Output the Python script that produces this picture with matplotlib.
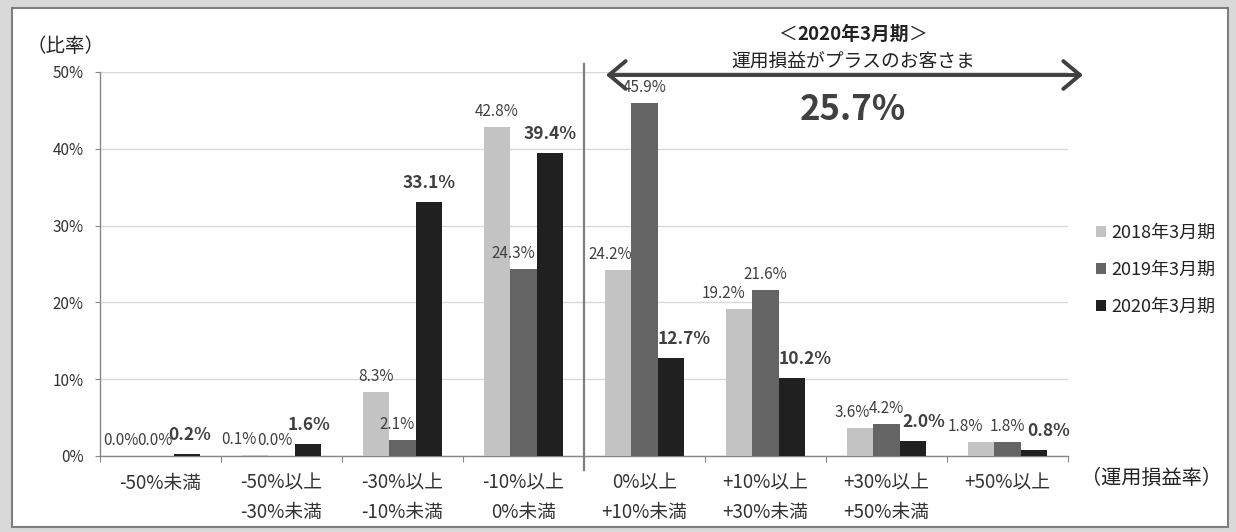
import numpy as np
import matplotlib
matplotlib.use('Agg')
import matplotlib.pyplot as plt
from matplotlib.patches import Rectangle

plt.rcParams['font.family'] = ['Noto Sans CJK JP', 'DejaVu Sans']

# 運用損益率の区分
categories = ['-50%未満', '-50%以上\n-30%未満', '-30%以上\n-10%未満', '-10%以上\n0%未満',
              '0%以上\n+10%未満', '+10%以上\n+30%未満', '+30%以上\n+50%未満', '+50%以上']
series_names = ['2018年3月期', '2019年3月期', '2020年3月期']

# 比率 (%)
ratio_2018 = [0.0, 0.1, 8.3, 42.8, 24.2, 19.2, 3.6, 1.8]
ratio_2019 = [0.0, 0.0, 2.1, 24.3, 45.9, 21.6, 4.2, 1.8]
ratio_2020 = [0.2, 1.6, 33.1, 39.4, 12.7, 10.2, 2.0, 0.8]

# プラスのお客さま = 0%以上の区分の合計
plus_share = sum(ratio_2020[4:])

colors = ['#c3c3c3', '#646464', '#202020']

# ラベルの横ずらし (px)
dx_2018 = [-13, -16, 0, 0, -8, -15, -8, -16]
dx_2019 = [-6, -7, -5, -10, 0, 0, 0, 0]
dx_2020 = [3, 1, 0, 0, 13, 13, 11, 15]

W, H = 1236, 532
PT = 0.72  # 1px -> pt (dpi=100)

fig = plt.figure(figsize=(W / 100, H / 100), dpi=100)
fig.patch.set_facecolor('#d9d9d9')
fig.patches.append(Rectangle((12 / W, 5 / H), 1216 / W, 519 / H, transform=fig.transFigure,
                             facecolor='white', edgecolor='#7f7f7f', lw=1.5, zorder=-10))

ax = fig.add_axes([100 / W, 1 - 456 / H, 968 / W, 384 / H])
ax.set_facecolor('none')

x = np.arange(len(categories))
w = 0.22
for i, (vals, dxs) in enumerate([(ratio_2018, dx_2018), (ratio_2019, dx_2019), (ratio_2020, dx_2020)]):
    pos = x + (i - 1) * w
    ax.bar(pos, vals, w, color=colors[i], label=series_names[i], zorder=3)
    bold = (i == 2)
    for p, v, d in zip(pos, vals, dxs):
        ax.annotate(f'{v:.1f}%', xy=(p, v), xytext=(d * PT, (14 if bold else 11) * PT),
                    textcoords='offset points', ha='center', va='baseline',
                    fontsize=12.5 if bold else 11, fontweight='bold' if bold else 'normal',
                    color='#404040', zorder=5)

ax.set_xlim(-0.5, len(categories) - 0.5)
ax.set_ylim(0, 50)
ax.set_yticks(np.arange(0, 51, 10))
ax.yaxis.set_major_formatter(lambda v, p: f'{v:.0f}%')
ax.grid(axis='y', color='#d9d9d9', lw=1)
ax.set_axisbelow(True)

for s in ['top', 'right']:
    ax.spines[s].set_visible(False)
for s in ['left', 'bottom']:
    ax.spines[s].set_color('#868686')
    ax.spines[s].set_linewidth(1)

ax.tick_params(axis='y', direction='out', length=5 * PT, color='#868686',
               labelsize=11, pad=8, labelcolor='#333333')
ax.set_xticks(np.arange(-0.5, len(categories), 1))
ax.set_xticklabels([])
ax.tick_params(axis='x', which='major', direction='out', length=6 * PT, color='#868686')
ax.set_xticks(x, categories, minor=True)
ax.tick_params(axis='x', which='minor', length=0, pad=12, labelsize=13.5, labelcolor='#333333')
for lbl in ax.get_xticklabels(minor=True):
    lbl.set_linespacing(1.5)

# 区切り線
ax.axvline(3.5, ymin=-14 / 384, ymax=1 + 8 / 384, color='#7f7f7f', lw=1.6, clip_on=False, zorder=4)

ax.legend(loc='center left', bbox_to_anchor=(1096 / W, 1 - 270 / H), bbox_transform=fig.transFigure,
          frameon=False, fontsize=13, handlelength=0.55, handleheight=0.55, handletextpad=0.3,
          labelspacing=1.05, borderpad=0, borderaxespad=0, labelcolor='#222222')

# 軸タイトル
fig.text(66 / W, 1 - 46 / H, '（比率）', ha='center', va='center', fontsize=14, color='#222222')
fig.text(1151 / W, 1 - 478 / H, '（運用損益率）', ha='center', va='center', fontsize=14.5, color='#222222')

# 注記
cx = 853 / W
t = fig.text(cx, 1 - 34 / H, '2020年3月期', ha='center', va='center', fontsize=13.5,
             fontweight='bold', color='#222222')
fig.canvas.draw()
bb = t.get_window_extent()
fig.text(bb.x0 / W, 1 - 34 / H, '＜', ha='right', va='center', fontsize=13.5, color='#222222')
fig.text(bb.x1 / W, 1 - 34 / H, '＞', ha='left', va='center', fontsize=13.5, color='#222222')
fig.text(cx, 1 - 62 / H, '運用損益がプラスのお客さま', ha='center', va='center', fontsize=13.5, color='#222222')
fig.text(cx, 1 - 109 / H, f'{plus_share:.1f}%', ha='center', va='center', fontsize=25,
         fontweight='bold', color='#404040')
ax.annotate('', xy=(1083 / W, 1 - 75 / H), xytext=(606 / W, 1 - 75 / H),
            xycoords='figure fraction', textcoords='figure fraction', annotation_clip=False,
            arrowprops=dict(arrowstyle='<->,head_length=0.6,head_width=0.5', lw=2.8,
                            color='#404040', mutation_scale=20, shrinkA=0, shrinkB=0))

fig.savefig('out.png', dpi=100)
